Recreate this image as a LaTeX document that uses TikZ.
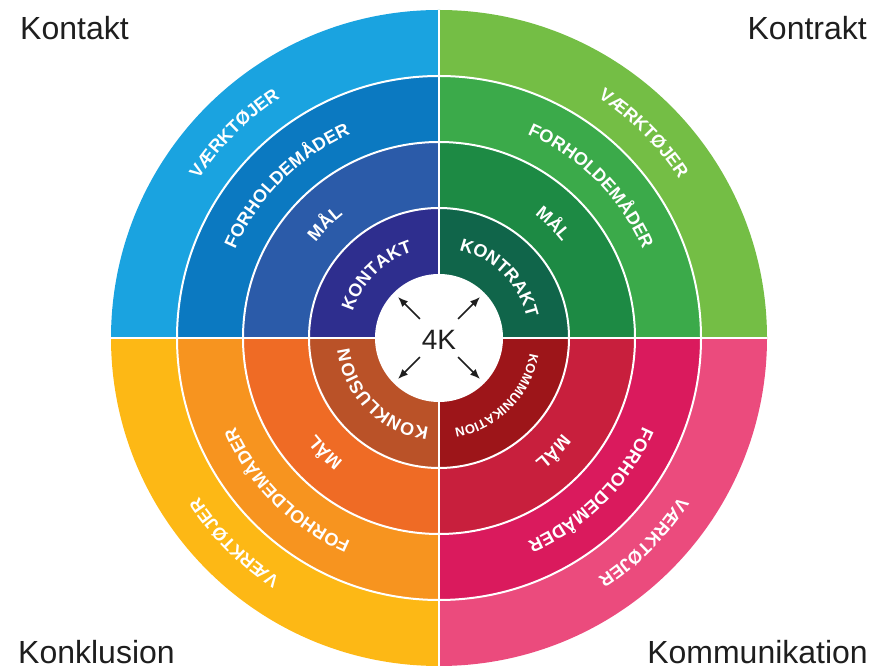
\documentclass[tikz,border=0pt]{standalone}
\usepackage{fontspec}
\setmainfont{Liberation Sans}
\usetikzlibrary{decorations.text,arrows.meta}

% ring colours, inner (I) to outer (IV)
\definecolor{kontaktI}{HTML}{2E2E8E}
\definecolor{kontaktII}{HTML}{2B5BA9}
\definecolor{kontaktIII}{HTML}{0B79C1}
\definecolor{kontaktIV}{HTML}{1AA3E0}
\definecolor{kontraktI}{HTML}{10654A}
\definecolor{kontraktII}{HTML}{1D8A44}
\definecolor{kontraktIII}{HTML}{3BAA4A}
\definecolor{kontraktIV}{HTML}{74BE45}
\definecolor{kommI}{HTML}{9D1519}
\definecolor{kommII}{HTML}{C81F3D}
\definecolor{kommIII}{HTML}{DA1A5D}
\definecolor{kommIV}{HTML}{EB4B7D}
\definecolor{konklI}{HTML}{BA5228}
\definecolor{konklII}{HTML}{EF6B25}
\definecolor{konklIII}{HTML}{F7941F}
\definecolor{konklIV}{HTML}{FDB815}
\definecolor{inkgray}{HTML}{1E1E1E}

\newcommand{\ringfont}{\fontsize{18}{18}\selectfont\bfseries\color{white}}
\newcommand{\smallringfont}{\fontsize{13}{13}\selectfont\bfseries\color{white}}

\tikzset{
  corner/.style={font=\fontsize{32}{34}\selectfont, text=inkgray, inner sep=0pt},
  separator/.style={white, line width=2pt},
  arr/.style={inkgray, line width=1.5pt, -{Latex[length=10pt, width=8pt]}},
  % text along a clockwise arc, centred on the quadrant
  ringlabel/.style={decorate, decoration={text along path, text align=center, text={#1}}}
}

\begin{document}
\begin{tikzpicture}[x=1pt, y=1pt]
  \useasboundingbox (0,0) rectangle (872,669);

  \node[corner, anchor=base west] (lkontakt) at (20,629) {Kontakt};
  \node[corner, anchor=base east] (lkontrakt) at (867,629) {Kontrakt};
  \node[corner, anchor=base west] (lkonklusion) at (18,6) {Konklusion};
  \node[corner, anchor=base east] (lkommunikation) at (868,6) {Kommunikation};

  \begin{scope}[shift={(439,331)}]
    % quadrant sectors, outer ring first
    \foreach \a/\q in {90/kontakt, 0/kontrakt, -90/komm, 180/konkl} {
      \foreach \r/\n in {328/IV, 262/III, 196/II, 130/I} {
        \fill[\q\n] (0,0) -- (\a:\r) arc[start angle=\a, end angle=\a+90, radius=\r] -- cycle;
      }
    }
    \fill[white] (0,0) circle[radius=64];

    % ring and quadrant separators
    \foreach \r in {130, 196, 262} {
      \draw[separator] (0,0) circle[radius=\r];
    }
    \draw[separator] (-328,0) -- (328,0);
    \draw[separator] (0,-328) -- (0,328);

    % labels along the rings
    \foreach \a/\w in {90/KONTAKT, 0/KONTRAKT, 180/KONKLUSION} {
      \path[ringlabel={|\ringfont|\w}] (\a+90:90) arc[start angle=\a+90, end angle=\a, radius=90];
    }
    \path[ringlabel={|\smallringfont|KOMMUNIKATION}] (0:92) arc[start angle=0, end angle=-90, radius=92];
    \foreach \a in {90, 0, -90, 180} {
      \path[ringlabel={|\ringfont|MÅL}] (\a+90:156) arc[start angle=\a+90, end angle=\a, radius=156];
      \path[ringlabel={|\ringfont|FORHOLDEMÅDER}] (\a+90:222) arc[start angle=\a+90, end angle=\a, radius=222];
      \path[ringlabel={|\ringfont|VÆRKTØJER}] (\a+90:288) arc[start angle=\a+90, end angle=\a, radius=288];
    }

    % centre
    \node[font=\fontsize{28}{30}\selectfont, text=inkgray] (fourk) at (0,-2) {4K};
    \foreach \ang in {45, 135, 225, 315} {
      \coordinate (t\ang) at (\ang:27);
      \coordinate (h\ang) at (\ang:58);
      \draw[arr] (t\ang) -- (h\ang);
    }
  \end{scope}
\end{tikzpicture}
\end{document}
